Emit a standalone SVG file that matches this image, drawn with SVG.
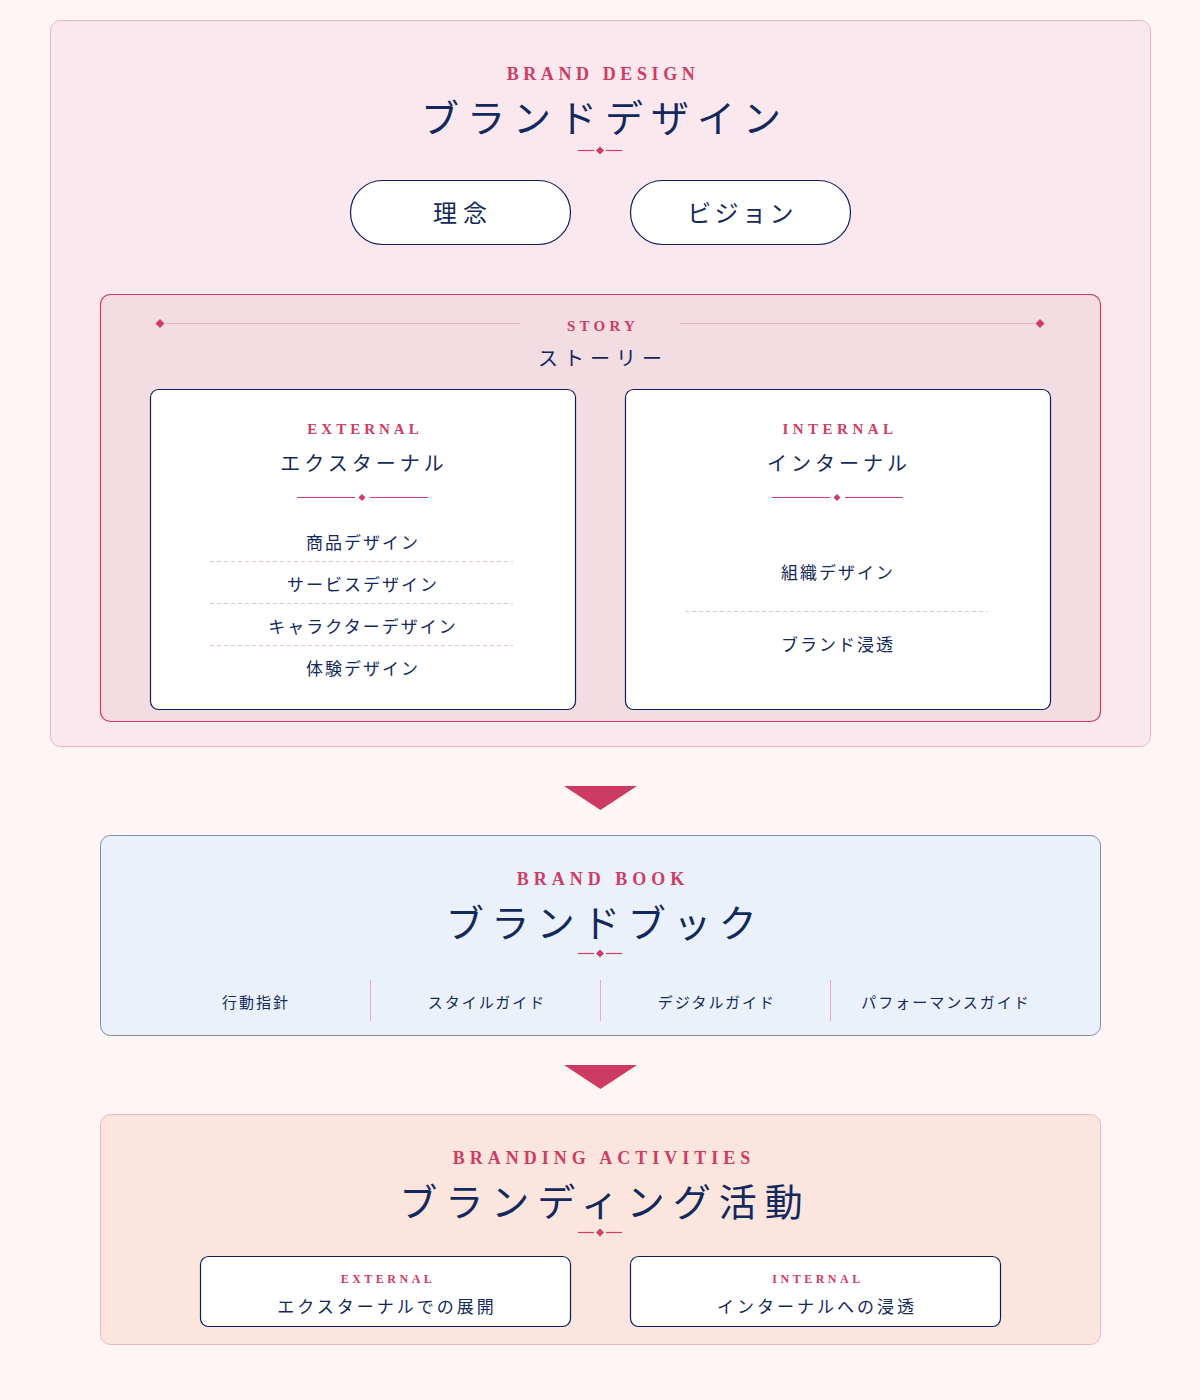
<svg xmlns="http://www.w3.org/2000/svg" width="1200" height="1400" viewBox="0 0 1200 1400">
<defs>
<style>
.en{font-family:"Liberation Serif","DejaVu Serif",serif;font-weight:bold;fill:#cf3c64;text-anchor:middle}
.jp{font-family:"Liberation Serif","Noto Sans CJK JP",serif;fill:#13295e;text-anchor:middle}
.orn{stroke:#cf3c64;stroke-width:1.2;fill:none}
.dia{fill:#cf3c64}
.dash{stroke:#e6c3cf;stroke-width:1;stroke-dasharray:4 3}
.card{fill:#ffffff;stroke:#0b1f5c;stroke-width:1.2}
</style>
</defs>
<rect width="1200" height="1400" fill="#fff5f4"/>

<g id="brand-design">
<rect x="50.5" y="20.5" width="1100" height="726" rx="10" fill="#fae8ee" stroke="#f0b3c5" stroke-width="1"/>
<text class="en" x="603" y="80" font-size="18" letter-spacing="4.6">BRAND DESIGN</text>
<text class="jp" x="605" y="132" font-size="38" letter-spacing="8">ブランドデザイン</text>
<line class="orn" x1="578" y1="150.5" x2="594" y2="150.5"/><line class="orn" x1="606" y1="150.5" x2="622" y2="150.5"/>
<path class="dia" d="M600 146.5 L604 150.5 L600 154.5 L596 150.5 Z"/>
</g>

<g id="rinen">
<rect class="card" x="350.5" y="180.5" width="220" height="64" rx="32"/>
<text class="jp" x="463" y="222" font-size="24" letter-spacing="6">理念</text>
</g>
<g id="vision">
<rect class="card" x="630.5" y="180.5" width="220" height="64" rx="32"/>
<text class="jp" x="742" y="222" font-size="24" letter-spacing="3.4">ビジョン</text>
</g>

<g id="story">
<rect x="100.5" y="294.5" width="1000" height="427" rx="10" fill="#f4dce3" stroke="#d03c64" stroke-width="1.2"/>
<line x1="166" y1="323.5" x2="520" y2="323.5" stroke="#e8b0c0" stroke-width="1"/>
<line x1="680" y1="323.5" x2="1034" y2="323.5" stroke="#e8b0c0" stroke-width="1"/>
<path class="dia" d="M160 319 L164.5 323.5 L160 328 L155.5 323.5 Z"/>
<path class="dia" d="M1040 319 L1044.5 323.5 L1040 328 L1035.5 323.5 Z"/>
<text class="en" x="603" y="331" font-size="15" letter-spacing="4.2">STORY</text>
<text class="jp" x="603" y="366" font-size="20" letter-spacing="6">ストーリー</text>
</g>

<g id="external-story">
<rect class="card" x="150.5" y="389.5" width="425" height="320" rx="8"/>
<text class="en" x="365" y="434" font-size="15" letter-spacing="4">EXTERNAL</text>
<text class="jp" x="364" y="471" font-size="20" letter-spacing="4">エクスターナル</text>
<line class="orn" x1="297" y1="497.5" x2="355" y2="497.5"/><line class="orn" x1="370" y1="497.5" x2="428" y2="497.5"/>
<path class="dia" d="M362 494 L365.5 497.5 L362 501 L358.5 497.5 Z"/>
<text class="jp" x="363" y="549" font-size="17" letter-spacing="2">商品デザイン</text>
<line class="dash" x1="210" y1="561.5" x2="513" y2="561.5"/>
<text class="jp" x="363" y="591" font-size="17" letter-spacing="2">サービスデザイン</text>
<line class="dash" x1="210" y1="603.5" x2="513" y2="603.5"/>
<text class="jp" x="363" y="633" font-size="17" letter-spacing="2">キャラクターデザイン</text>
<line class="dash" x1="210" y1="645.5" x2="513" y2="645.5"/>
<text class="jp" x="363" y="675" font-size="17" letter-spacing="2">体験デザイン</text>
</g>

<g id="internal-story">
<rect class="card" x="625.5" y="389.5" width="425" height="320" rx="8"/>
<text class="en" x="840" y="434" font-size="15" letter-spacing="4.5">INTERNAL</text>
<text class="jp" x="839" y="471" font-size="20" letter-spacing="4">インターナル</text>
<line class="orn" x1="772" y1="497.5" x2="830" y2="497.5"/><line class="orn" x1="845" y1="497.5" x2="903" y2="497.5"/>
<path class="dia" d="M837 494 L840.5 497.5 L837 501 L833.5 497.5 Z"/>
<text class="jp" x="838" y="579" font-size="17" letter-spacing="2">組織デザイン</text>
<line class="dash" x1="685" y1="611.5" x2="988" y2="611.5"/>
<text class="jp" x="838" y="651" font-size="17" letter-spacing="2">ブランド浸透</text>
</g>

<g id="connectors">
<path d="M564 786 L637 786 L600.5 810 Z" fill="#cd3a63"/>
<path d="M564 1065 L637 1065 L600.5 1089 Z" fill="#cd3a63"/>
</g>

<g id="brand-book">
<rect x="100.5" y="835.5" width="1000" height="200" rx="10" fill="#eaf1fa" stroke="#7a8cb0" stroke-width="1"/>
<text class="en" x="603" y="885" font-size="18" letter-spacing="5">BRAND BOOK</text>
<text class="jp" x="605" y="937" font-size="38" letter-spacing="7.5">ブランドブック</text>
<line class="orn" x1="578" y1="953.5" x2="594" y2="953.5"/><line class="orn" x1="606" y1="953.5" x2="622" y2="953.5"/>
<path class="dia" d="M600 949.5 L604 953.5 L600 957.5 L596 953.5 Z"/>
<line x1="370.5" y1="980" x2="370.5" y2="1021" stroke="#eaa9bc" stroke-width="1"/>
<line x1="600.5" y1="980" x2="600.5" y2="1021" stroke="#eaa9bc" stroke-width="1"/>
<line x1="830.5" y1="980" x2="830.5" y2="1021" stroke="#eaa9bc" stroke-width="1"/>
<text class="jp" x="256" y="1008" font-size="15" letter-spacing="2">行動指針</text>
<text class="jp" x="487" y="1008" font-size="15" letter-spacing="2">スタイルガイド</text>
<text class="jp" x="717" y="1008" font-size="15" letter-spacing="2">デジタルガイド</text>
<text class="jp" x="946" y="1008" font-size="15" letter-spacing="2">パフォーマンスガイド</text>
</g>

<g id="branding-activities">
<rect x="100.5" y="1114.5" width="1000" height="230" rx="10" fill="#fce5dc" stroke="#f0b3c5" stroke-width="1"/>
<text class="en" x="604" y="1164" font-size="18" letter-spacing="5">BRANDING ACTIVITIES</text>
<text class="jp" x="605" y="1216" font-size="38" letter-spacing="8">ブランディング活動</text>
<line class="orn" x1="578" y1="1232.5" x2="594" y2="1232.5"/><line class="orn" x1="606" y1="1232.5" x2="622" y2="1232.5"/>
<path class="dia" d="M600 1228.5 L604 1232.5 L600 1236.5 L596 1232.5 Z"/>
</g>

<g id="external-activity">
<rect class="card" x="200.5" y="1256.5" width="370" height="70" rx="8"/>
<text class="en" x="388" y="1283" font-size="12" letter-spacing="3.5" font-weight="normal">EXTERNAL</text>
<text class="jp" x="387" y="1313" font-size="17" letter-spacing="3">エクスターナルでの展開</text>
</g>
<g id="internal-activity">
<rect class="card" x="630.5" y="1256.5" width="370" height="70" rx="8"/>
<text class="en" x="818" y="1283" font-size="12" letter-spacing="3.5" font-weight="normal">INTERNAL</text>
<text class="jp" x="817" y="1313" font-size="17" letter-spacing="3">インターナルへの浸透</text>
</g>
</svg>
